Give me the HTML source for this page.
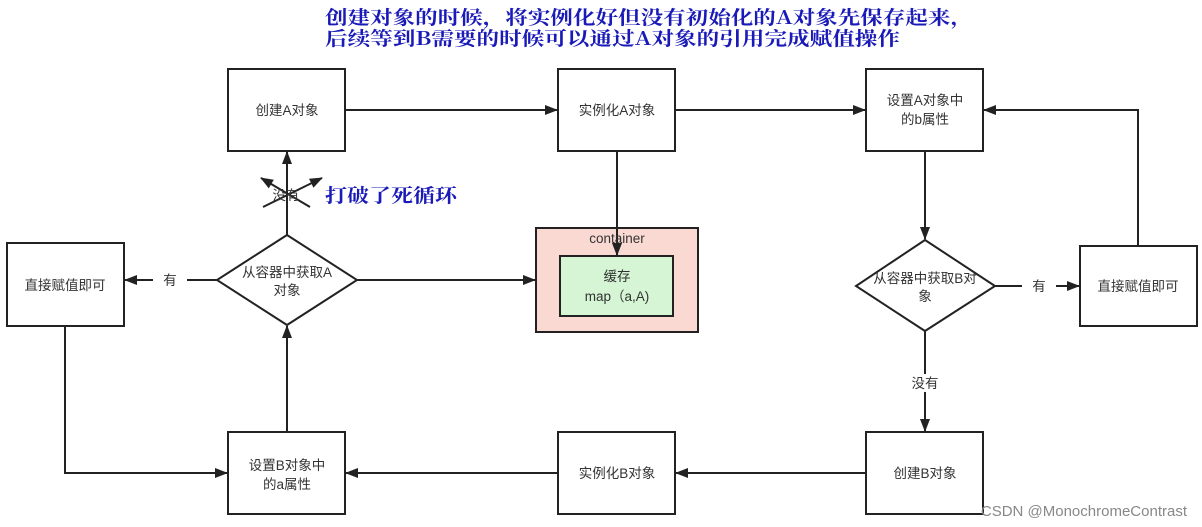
<!DOCTYPE html>
<html><head><meta charset="utf-8">
<style>
html,body{margin:0;padding:0;background:#fff;}
svg{display:block;}
text{font-family:"Liberation Sans","Noto Sans CJK SC",sans-serif;}
.t{font-size:13.5px;fill:#333;text-anchor:middle;}
.b{font-family:"Noto Serif CJK SC","Liberation Serif",serif;fill:#1a1ab8;font-size:19px;font-weight:bold;}
</style></head>
<body>
<svg width="1202" height="527" viewBox="0 0 1202 527" xmlns="http://www.w3.org/2000/svg">
<defs>
<marker id="a" markerWidth="13" markerHeight="10" refX="12" refY="5" orient="auto" markerUnits="userSpaceOnUse">
<path d="M0,0 L13,5 L0,10 Z" fill="#222"/></marker>
</defs>
<text class="b" x="325" y="24" textLength="648" lengthAdjust="spacingAndGlyphs">创建对象的时候，将实例化好但没有初始化的A对象先保存起来，</text>
<text class="b" x="325" y="45" textLength="575" lengthAdjust="spacingAndGlyphs">后续等到B需要的时候可以通过A对象的引用完成赋值操作</text>

<g stroke="#222" stroke-width="2" fill="#fff">
<rect x="228" y="69" width="117" height="82"/>
<rect x="558" y="69" width="117" height="82"/>
<rect x="866" y="69" width="117" height="82"/>
<rect x="7" y="243" width="117" height="83"/>
<rect x="1080" y="246" width="117" height="80"/>
<rect x="228" y="432" width="117" height="82"/>
<rect x="558" y="432" width="117" height="82"/>
<rect x="866" y="432" width="117" height="82"/>
<polygon points="287,235 357,280 287,325 217,280"/>
<polygon points="925,240 995,286 925,331 856,286"/>
<rect x="536" y="228" width="162" height="104" fill="#fad9d3"/>
<rect x="560" y="256" width="113" height="60" fill="#d5f5d5"/>
</g>

<g stroke="#222" stroke-width="2" fill="none" marker-end="url(#a)">
<line x1="345" y1="110" x2="557" y2="110"/>
<line x1="675" y1="110" x2="865" y2="110"/>
<line x1="617" y1="151" x2="617" y2="255"/>
<line x1="925" y1="151" x2="925" y2="239"/>
<line x1="995" y1="286" x2="1079" y2="286"/>
<polyline points="1138,246 1138,110 984,110"/>
<line x1="925" y1="331" x2="925" y2="431"/>
<line x1="866" y1="473" x2="676" y2="473"/>
<line x1="558" y1="473" x2="346" y2="473"/>
<polyline points="65,326 65,473 227,473"/>
<line x1="287" y1="432" x2="287" y2="326"/>
<line x1="287" y1="235" x2="287" y2="152"/>
<line x1="217" y1="280" x2="125" y2="280"/>
<line x1="357" y1="280" x2="535" y2="280"/>
<line x1="310" y1="207" x2="261" y2="178"/>
<line x1="263" y1="207" x2="322" y2="178"/>
</g>
<rect x="153" y="272" width="34" height="16" fill="#fff"/>
<rect x="1022" y="278" width="34" height="16" fill="#fff"/>
<rect x="902" y="374" width="46" height="18" fill="#fff"/>

<text class="t" x="287" y="115">创建A对象</text>
<text class="t" x="617" y="115">实例化A对象</text>
<text class="t" x="925" y="105">设置A对象中</text>
<text class="t" x="925" y="124">的b属性</text>
<text class="t" x="65" y="290">直接赋值即可</text>
<text class="t" x="1138" y="291">直接赋值即可</text>
<text class="t" x="287" y="470">设置B对象中</text>
<text class="t" x="287" y="489">的a属性</text>
<text class="t" x="617" y="478">实例化B对象</text>
<text class="t" x="925" y="478">创建B对象</text>
<text class="t" x="287" y="277">从容器中获取A</text>
<text class="t" x="287" y="295">对象</text>
<text class="t" x="925" y="283">从容器中获取B对</text>
<text class="t" x="925" y="301">象</text>
<text class="t" x="170" y="285">有</text>
<text class="t" x="1039" y="291">有</text>
<text class="t" x="925" y="388">没有</text>
<text class="t" x="286" y="200">没有</text>
<text class="t" x="617" y="243">container</text>
<text class="t" x="617" y="281">缓存</text>
<text class="t" x="617" y="301">map（a,A)</text>
<text class="b" x="325" y="202" textLength="132" lengthAdjust="spacingAndGlyphs">打破了死循环</text>
<text x="1187" y="516" style="font-size:15px;fill:#888;text-anchor:end">CSDN @MonochromeContrast</text>
</svg>
</body></html>
